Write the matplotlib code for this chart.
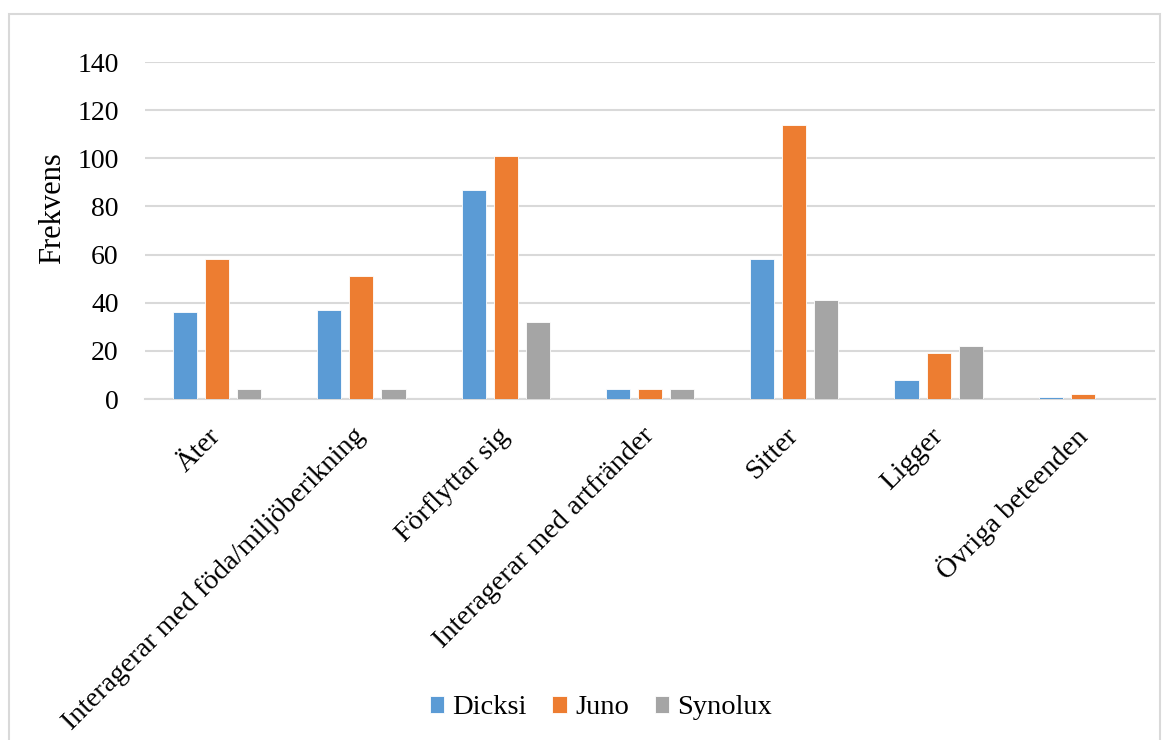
import matplotlib
matplotlib.use("Agg")
import matplotlib.pyplot as plt
from matplotlib.patches import Rectangle
import numpy as np

categories = ["Äter", "Interagerar med föda/miljöberikning", "Förflyttar sig",
              "Interagerar med artfränder", "Sitter", "Ligger", "Övriga beteenden"]
dicksi = [36, 37, 87, 4, 58, 8, 1]
juno = [58, 51, 101, 4, 114, 19, 2]
synolux = [4, 4, 32, 4, 41, 22, 0]
series_names = ["Dicksi", "Juno", "Synolux"]
colors = ["#5B9BD5", "#ED7D31", "#A5A5A5"]
yticks = [0, 20, 40, 60, 80, 100, 120, 140]

plt.rcParams['font.family'] = ['Liberation Serif', 'DejaVu Serif']

fig = plt.figure(figsize=(11.69, 7.40), dpi=100)
ax = fig.add_axes([145/1169, 1-399/740, (1155-145)/1169, (399-62)/740])

# outer chart frame
fig.patches.append(Rectangle((9/1169, -0.05), (1160-9)/1169, 1.05-14/740,
                             transform=fig.transFigure, fill=False,
                             edgecolor="#d9d9d9", linewidth=1.5))

x = np.arange(len(categories))
w = 0.167
step = 0.222
for i, (vals, name, c) in enumerate(zip([dicksi, juno, synolux], series_names, colors)):
    ax.bar(x + (i - 1) * step, vals, width=w, color=c, label=name,
           edgecolor="white", linewidth=0.6, zorder=3)

ax.set_xlim(-0.5, len(categories) - 0.5)
ax.set_ylim(0, 140)
ax.set_yticks(yticks)
ax.set_yticklabels([str(t) for t in yticks], fontsize=20)
ax.yaxis.grid(True, color="#d9d9d9", linewidth=1.5, zorder=0)
ax.set_axisbelow(True)
for s in ["top", "right", "left"]:
    ax.spines[s].set_visible(False)
ax.spines["bottom"].set_color("#d9d9d9")
ax.spines["bottom"].set_linewidth(1.5)
ax.tick_params(axis="y", length=0, pad=19)
ax.tick_params(axis="x", length=0, pad=24)

ax.set_xticks(x)
ax.set_xticklabels(categories, rotation=45, ha="right", va="center",
                   rotation_mode="anchor", fontsize=20.5)
ax.set_ylabel("Frekvens", fontsize=22)
ax.yaxis.set_label_coords(-0.077, 0.567)

leg = fig.legend(loc="center", bbox_to_anchor=(601/1169, 1-708/740), ncol=3,
                 frameon=False, fontsize=20.5, handlelength=0.5, handleheight=0.5,
                 handletextpad=0.3, columnspacing=0.9)

fig.savefig("out.png", dpi=100)
